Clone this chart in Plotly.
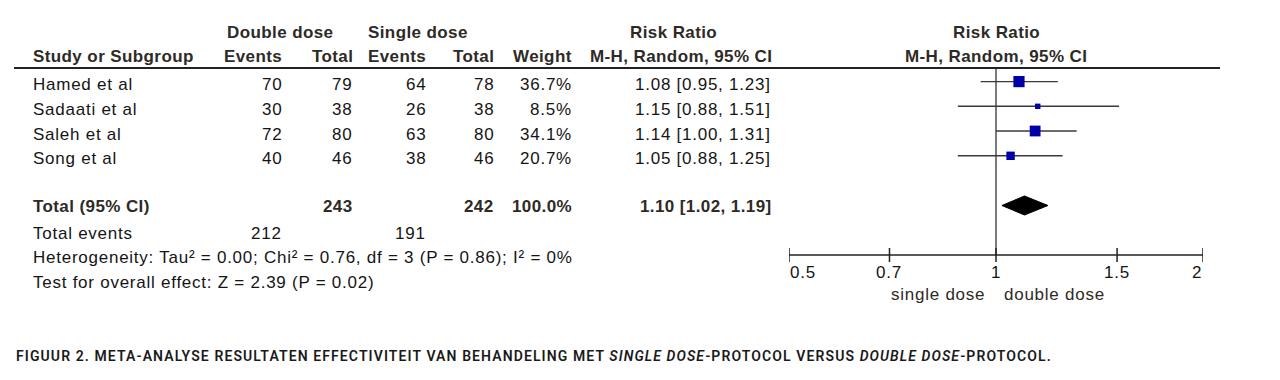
import numpy as np
import plotly.graph_objects as go

# ---------------- data ----------------
studies = ["Hamed et al", "Sadaati et al", "Saleh et al", "Song et al"]
dd_events = [70, 30, 72, 40]
dd_total = [79, 38, 80, 46]
sd_events = [64, 26, 63, 38]
sd_total = [78, 38, 80, 46]
weights = [36.7, 8.5, 34.1, 20.7]
rr = [1.08, 1.15, 1.14, 1.05]
rr_lo = [0.95, 0.88, 1.00, 0.88]
rr_hi = [1.23, 1.51, 1.31, 1.25]

total_dd_total = 243
total_sd_total = 242
total_weight = 100.0
total_rr = 1.10
total_lo = 1.02
total_hi = 1.19
total_dd_events = 212
total_sd_events = 191

heterogeneity = "Heterogeneity: Tau² = 0.00; Chi² = 0.76, df = 3 (P = 0.86); I² = 0%"
overall_test = "Test for overall effect: Z = 2.39 (P = 0.02)"

tick_vals = [0.5, 0.7, 1, 1.5, 2]
tick_labels = ["0.5", "0.7", "1", "1.5", "2"]
favours_left = "single dose"
favours_right = "double dose"

caption = ("FIGUUR 2. META-ANALYSE RESULTATEN EFFECTIVITEIT VAN BEHANDELING MET "
           "<i>SINGLE DOSE</i>-PROTOCOL VERSUS <i>DOUBLE DOSE</i>-PROTOCOL.")

# ---------------- layout constants ----------------
# the page body adds an 8px margin; the figure is sized to fill the rest
OFF = 8
W, H = 1280 - OFF, 380 - OFF
FONT = "Liberation Sans, Arial, sans-serif"
TXT = "#151515"
HDR = "#2e2a26"
FS = 17
LS_N = 0.75  # letter spacing for normal text
LS_B = 0.4   # letter spacing for bold text

row_y = [81.6, 106.3, 131.0, 155.8]   # marker rows (page pixels from top)
text_dy = 3.0
total_y = 205.5
events_y = 233.5
het_y = 257.5
test_y = 282.0
hdr1_y = 32.0
hdr2_y = 56.5
line_y = 68.0
axis_y = 255.0


def px(x):
    return (x - OFF) / W


fig = go.Figure()
ann = []


def txt(x, y, s, anchor="left", bold=False, color=None, size=FS, ls=None):
    if ls is None:
        ls = LS_B if bold else LS_N
    s2 = f"<b>{s}</b>" if bold else s
    s2 = f'<span style="letter-spacing:{ls}px">{s2}</span>'
    ann.append(dict(
        xref="paper", yref="y", x=px(x), y=y, text=s2, showarrow=False,
        xanchor=anchor, yanchor="middle",
        font=dict(family=FONT, size=size, color=color or (HDR if bold else TXT)),
        borderpad=0,
    ))


# headers
txt(280, hdr1_y, "Double dose", "center", True)
txt(418, hdr1_y, "Single dose", "center", True)
txt(673, hdr1_y, "Risk Ratio", "center", True)
txt(996, hdr1_y, "Risk Ratio", "center", True)
txt(32, hdr2_y, "Study or Subgroup", "left", True)
txt(283, hdr2_y, "Events", "right", True)
txt(354, hdr2_y, "Total", "right", True)
txt(427, hdr2_y, "Events", "right", True)
txt(495, hdr2_y, "Total", "right", True)
txt(573, hdr2_y, "Weight", "right", True)
txt(773, hdr2_y, "M-H, Random, 95% CI", "right", True)
txt(996, hdr2_y, "M-H, Random, 95% CI", "center", True)

# study rows
for i, s in enumerate(studies):
    y = row_y[i] + text_dy
    txt(32, y, s)
    txt(283, y, str(dd_events[i]), "right")
    txt(353, y, str(dd_total[i]), "right")
    txt(427, y, str(sd_events[i]), "right")
    txt(495, y, str(sd_total[i]), "right")
    txt(573, y, f"{weights[i]:.1f}%", "right")
    txt(772, y, f"{rr[i]:.2f} [{rr_lo[i]:.2f}, {rr_hi[i]:.2f}]", "right")

# totals
ty = total_y + 1
txt(32, ty, "Total (95% CI)", "left", True)
txt(354, ty, str(total_dd_total), "right", True)
txt(495, ty, str(total_sd_total), "right", True)
txt(573, ty, f"{total_weight:.1f}%", "right", True)
txt(773, ty, f"{total_rr:.2f} [{total_lo:.2f}, {total_hi:.2f}]", "right", True)
txt(32, events_y, "Total events")
txt(283, events_y, str(total_dd_events), "right")
txt(427, events_y, str(total_sd_events), "right")
txt(32, het_y, heterogeneity)
txt(32, test_y, overall_test)

# caption
ann.append(dict(
    xref="paper", yref="y", x=px(15), y=356,
    text=f'<span style="letter-spacing:1.1px">{caption}</span>', showarrow=False,
    xanchor="left", yanchor="middle", borderpad=0,
    font=dict(family="Roboto, Liberation Sans, sans-serif", size=14, color="#1a1a1a", weight=600),
))

# ---------------- forest plot (log axis) ----------------
# header rule
fig.add_shape(type="line", xref="paper", yref="y", x0=px(14), x1=px(1220),
              y0=line_y, y1=line_y, line=dict(color="#222222", width=2))

# line of no effect
fig.add_trace(go.Scatter(x=[1, 1], y=[line_y, axis_y], mode="lines",
                         line=dict(color="#333333", width=1.3), hoverinfo="skip"))

# confidence intervals
ci_x, ci_y = [], []
for i in range(len(studies)):
    ci_x += [rr_lo[i], rr_hi[i], None]
    ci_y += [row_y[i], row_y[i], None]
fig.add_trace(go.Scatter(x=ci_x, y=ci_y, mode="lines",
                         line=dict(color="#3a3a3a", width=1.4), hoverinfo="skip"))

# squares sized by weight
sizes = [11.2 * np.sqrt(w / max(weights)) for w in weights]
fig.add_trace(go.Scatter(x=rr, y=row_y, mode="markers",
                         marker=dict(symbol="square", size=sizes, color="#0000A8", opacity=1,
                                     line=dict(width=0)), hoverinfo="skip"))

# pooled diamond
dh = 9.5
fig.add_trace(go.Scatter(
    x=[total_lo, total_rr, total_hi, total_rr, total_lo],
    y=[total_y, total_y - dh, total_y, total_y + dh, total_y],
    mode="lines", fill="toself", fillcolor="#000000",
    line=dict(color="#000000", width=1), hoverinfo="skip"))

# axis line and ticks
fig.add_trace(go.Scatter(x=[tick_vals[0], tick_vals[-1]], y=[axis_y, axis_y], mode="lines",
                         line=dict(color="#222222", width=1.5), hoverinfo="skip"))
tk_x, tk_y = [], []
for v in tick_vals:
    tk_x += [v, v, None]
    tk_y += [axis_y - 7, axis_y + 7, None]
fig.add_trace(go.Scatter(x=tk_x, y=tk_y, mode="lines",
                         line=dict(color="#222222", width=1.5), hoverinfo="skip"))

# tick labels
for j, (v, lab) in enumerate(zip(tick_vals, tick_labels)):
    anchor = "left" if j == 0 else ("right" if j == len(tick_vals) - 1 else "center")
    ann.append(dict(
        xref="x", yref="y", x=np.log10(v), y=272,
        text=f'<span style="letter-spacing:{LS_N}px">{lab}</span>',
        showarrow=False, xanchor=anchor, yanchor="middle", borderpad=0,
        font=dict(family=FONT, size=FS, color=TXT)))

# favours labels
ann.append(dict(xref="x", yref="y", x=np.log10(1), xshift=-10, y=294,
                text=f'<span style="letter-spacing:{LS_N}px">{favours_left}</span>',
                showarrow=False, xanchor="right", yanchor="middle", borderpad=0,
                font=dict(family=FONT, size=FS, color=HDR)))
ann.append(dict(xref="x", yref="y", x=np.log10(1), xshift=7, y=294,
                text=f'<span style="letter-spacing:{LS_N}px">{favours_right}</span>',
                showarrow=False, xanchor="left", yanchor="middle", borderpad=0,
                font=dict(family=FONT, size=FS, color=HDR)))

fig.update_layout(
    width=W, height=H, margin=dict(l=0, r=0, t=0, b=0),
    paper_bgcolor="white", plot_bgcolor="white", showlegend=False,
    xaxis=dict(type="log", range=[np.log10(0.5), np.log10(2)],
               domain=[px(789), px(1203)], visible=False, fixedrange=True),
    yaxis=dict(range=[380, OFF], domain=[0, 1], visible=False, fixedrange=True),
    annotations=ann,
)

fig.write_html("out.html")
